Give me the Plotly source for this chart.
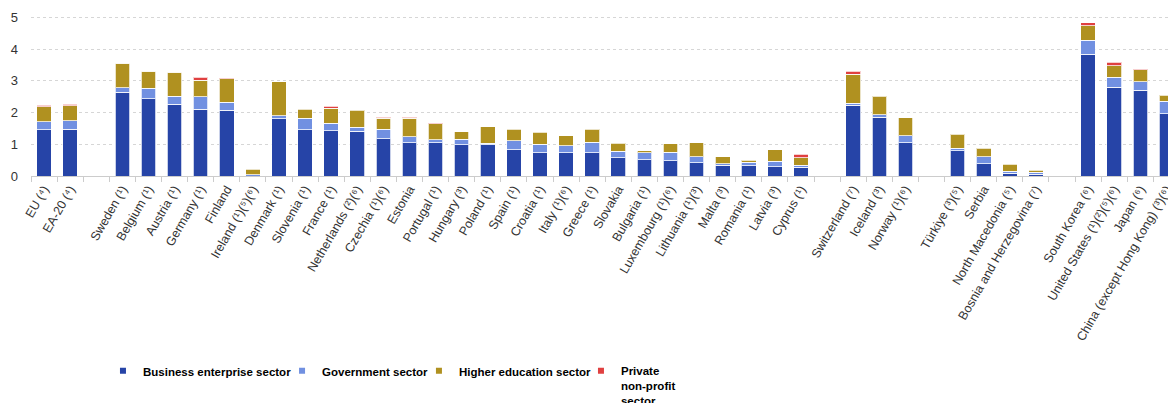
import plotly.graph_objects as go

categories = [
    "EU (⁴)", "EA-20 (⁴)", " ",
    "Sweden (¹)", "Belgium (¹)", "Austria (¹)", "Germany (¹)", "Finland",
    "Ireland (¹)(⁵)(⁶)", "Denmark (¹)", "Slovenia (¹)", "France (¹)",
    "Netherlands (²)(⁶)", "Czechia (¹)(⁶)", "Estonia", "Portugal (¹)",
    "Hungary (³)", "Poland (¹)", "Spain (¹)", "Croatia (¹)", "Italy (¹)(⁶)",
    "Greece (¹)", "Slovakia", "Bulgaria (¹)", "Luxembourg (¹)(⁶)",
    "Lithuania (¹)(³)", "Malta (³)", "Romania (¹)", "Latvia (³)", "Cyprus (¹)",
    "  ",
    "Switzerland (⁷)", "Iceland (³)", "Norway (¹)(⁶)",
    "   ",
    "Türkiye (³)(⁵)", "Serbia", "North Macedonia (⁵)", "Bosnia and Herzegovina (⁷)",
    "    ",
    "South Korea (⁶)", "United States (¹)(²)(⁵)(⁶)", "Japan (⁶)",
    "China (except Hong Kong) (³)(⁶)",
]

business = [
    1.45, 1.47, None,
    2.64, 2.44, 2.26, 2.11, 2.08,
    0.00, 1.81, 1.45, 1.42,
    1.41, 1.18, 1.05, 1.05,
    0.99, 0.99, 0.82, 0.73, 0.73,
    0.73, 0.57, 0.51, 0.48,
    0.42, 0.34, 0.32, 0.29, 0.27,
    None,
    2.23, 1.85, 1.05,
    None,
    0.80, 0.39, 0.09, 0.06,
    None,
    3.83, 2.80, 2.70, 1.96,
]

government = [
    0.26, 0.27, None,
    0.14, 0.32, 0.25, 0.38, 0.24,
    0.04, 0.09, 0.37, 0.25,
    0.13, 0.29, 0.18, 0.09,
    0.17, 0.04, 0.29, 0.27, 0.22,
    0.33, 0.21, 0.22, 0.27,
    0.18, 0.04, 0.12, 0.17, 0.07,
    None,
    0.06, 0.08, 0.22,
    None,
    0.07, 0.22, 0.06, 0.06,
    None,
    0.45, 0.31, 0.27, 0.39,
]

higher_education = [
    0.47, 0.47, None,
    0.78, 0.54, 0.76, 0.53, 0.74,
    0.18, 1.07, 0.28, 0.46,
    0.53, 0.35, 0.59, 0.51,
    0.23, 0.52, 0.36, 0.38, 0.32,
    0.42, 0.26, 0.07, 0.26,
    0.45, 0.23, 0.06, 0.36, 0.24,
    None,
    0.92, 0.58, 0.57,
    None,
    0.44, 0.26, 0.22, 0.06,
    None,
    0.45, 0.36, 0.38, 0.19,
]

private_non_profit = [
    0.05, 0.05, None,
    0.01, 0.01, 0.01, 0.09, 0.04,
    None, None, None, 0.07,
    None, 0.03, 0.03, 0.03,
    None, None, None, None, None,
    None, None, None, None,
    None, None, None, None, 0.10,
    None,
    0.09, None, None,
    None,
    None, None, None, None,
    None,
    0.10, 0.11, 0.02, None,
]

series = [
    ("Business enterprise sector", business, "#2644A7"),
    ("Government sector", government, "#7190E1"),
    ("Higher education sector", higher_education, "#B09120"),
    ("Private<br>non-profit<br>sector", private_non_profit, "#E04040"),
]

y_ticks = [0, 1, 2, 3, 4, 5]

legend_ids = ["legend", "legend2", "legend3", "legend4"]
legend_x = [0.0633, 0.2208, 0.3412, 0.4837]

fig = go.Figure()
for name, vals, color in series:
    fig.add_trace(go.Bar(
        x=categories, y=vals, name=name, showlegend=False,
        marker=dict(color=color, line=dict(color="rgba(255,255,255,0.75)", width=1)),
        hoverinfo="x+y+name",
    ))
for (name, vals, color), lid in zip(series, legend_ids):
    fig.add_trace(go.Scatter(
        x=[None], y=[None], name=name, mode="markers", legend=lid,
        marker=dict(symbol="square", size=6, color=color),
    ))

legend_font = dict(size=11.5, color="#000000", family="Liberation Sans, Arial, sans-serif", weight="bold")
legends = {}
for lid, lx in zip(legend_ids, legend_x):
    legends[lid] = dict(
        orientation="h", x=lx, xanchor="left", y=-1.096, yanchor="top",
        valign="top", itemwidth=30, font=legend_font, bgcolor="rgba(0,0,0,0)",
    )

fig.update_layout(
    width=1168, height=403,
    barmode="stack", bargap=0.44,
    plot_bgcolor="white", paper_bgcolor="white",
    margin=dict(l=31, r=0, t=11, b=227, autoexpand=False),
    font=dict(family="Liberation Sans, Arial, sans-serif", color="#333333"),
    showlegend=True,
    **legends,
)

fig.update_xaxes(
    type="category", categoryorder="array", categoryarray=categories,
    range=[-0.5, 43.06], automargin=False,
    tickangle=-60, tickfont=dict(size=12.5, color="#333333"),
    showline=True, linecolor="#cccccc", linewidth=1,
    ticks="outside", tickson="boundaries", ticklen=5, tickcolor="#cccccc",
    showgrid=False,
)
fig.update_yaxes(
    range=[0, 5.2], tickvals=y_ticks, automargin=False,
    tickfont=dict(size=13, color="#333333"),
    showgrid=True, gridcolor="#d6d6d6", griddash="dot", gridwidth=1,
    zeroline=False, showline=False, ticklabelstandoff=12,
)

fig.write_html("out.html")
